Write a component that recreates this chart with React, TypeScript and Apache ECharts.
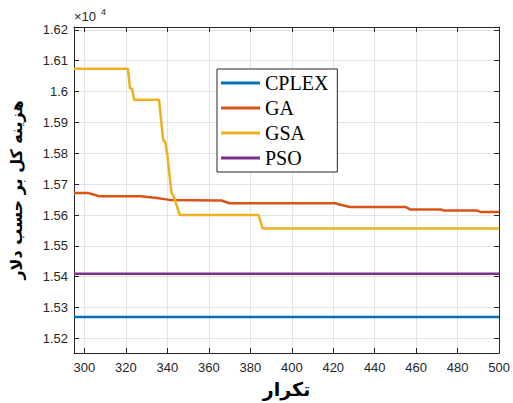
import React, { useEffect, useRef } from "react";
import * as echarts from "echarts";

const xTicks = [300, 320, 340, 360, 380, 400, 420, 440, 460, 480, 500];
const yTicks = [15200, 15300, 15400, 15500, 15600, 15700, 15800, 15900, 16000, 16100, 16200];

const seriesNames = ["CPLEX", "GA", "GSA", "PSO"];
const seriesColors = ["#0072BD", "#D95319", "#EDB120", "#7E2F8E"];

const cplexIter = [295, 500];
const cplexCost = [15270, 15270];

const gaIter = [295, 302, 304, 307, 327, 335, 341, 366, 370, 421, 423, 428, 455, 457, 472, 473, 489, 491, 500];
const gaCost = [15671, 15671, 15667, 15661, 15661, 15655, 15649, 15647, 15638, 15638, 15634, 15626, 15626, 15618, 15618, 15615, 15615, 15610, 15610];

const gsaIter = [295, 321, 322, 323, 324, 336, 338, 339, 340, 342, 343, 346, 384, 386, 500];
const gsaCost = [16074, 16074, 16010, 16010, 15973, 15973, 15843, 15837, 15795, 15672, 15662, 15600, 15600, 15556, 15556];

const psoIter = [295, 500];
const psoCost = [15410, 15410];

const iters = [cplexIter, gaIter, gsaIter, psoIter];
const costs = [cplexCost, gaCost, gsaCost, psoCost];

const AXIS = "#262626";
const GRID = "#e3e3e3";

export default function App() {
  const ref = useRef<HTMLDivElement>(null);
  useEffect(() => {
    if (!ref.current) return;
    const chart = echarts.init(ref.current, null, { renderer: "svg" });
    const xMin = 295, xMax = 500, yMin = 15153, yMax = 16209;
    const commonX = {
      type: "value",
      min: xMin,
      max: xMax,
      axisLine: { show: true, onZero: false, lineStyle: { color: AXIS, width: 1 } },
      axisTick: { show: true, inside: true, length: 5, customValues: xTicks, lineStyle: { color: AXIS } },
    };
    const commonY = {
      type: "value",
      min: yMin,
      max: yMax,
      axisLine: { show: true, onZero: false, lineStyle: { color: AXIS, width: 1 } },
      axisTick: { show: true, inside: true, length: 5, customValues: yTicks, lineStyle: { color: AXIS } },
    };
    chart.setOption({
      animation: false,
      backgroundColor: "#ffffff",
      grid: { left: 72, right: 12, top: 27, bottom: 44, containLabel: false },
      xAxis: [
        {
          ...commonX,
          position: "bottom",
          axisLabel: {
            customValues: xTicks,
            color: AXIS,
            fontSize: 13,
            fontFamily: "Liberation Sans",
            margin: 8,
          },
          splitLine: { show: true, lineStyle: { color: GRID, width: 1 } },
          name: "تکرار",
          nameLocation: "middle",
          nameGap: 26,
          nameTextStyle: { fontSize: 19, fontWeight: "bold", color: "#000", fontFamily: "DejaVu Sans" },
        },
        {
          ...commonX,
          position: "top",
          axisLabel: { show: false },
          splitLine: { show: false },
        },
      ],
      yAxis: [
        {
          ...commonY,
          position: "left",
          axisLabel: {
            customValues: yTicks,
            color: AXIS,
            fontSize: 13,
            fontFamily: "Liberation Sans",
            margin: 6,
            formatter: (v: number) => String(+(v / 10000).toFixed(4)),
          },
          splitLine: { show: true, lineStyle: { color: GRID, width: 1 } },
          name: "هزینه کل بر حسب دلار",
          nameLocation: "middle",
          nameRotate: 90,
          nameGap: 50,
          nameTextStyle: { fontSize: 16, fontWeight: "bold", color: "#000", fontFamily: "DejaVu Sans" },
        },
        {
          ...commonY,
          position: "right",
          axisLabel: { show: false },
          splitLine: { show: false },
        },
      ],
      legend: {
        orient: "vertical",
        left: 217,
        top: 69,
        padding: [4, 9, 4, 4],
        itemGap: 5,
        itemWidth: 39,
        itemHeight: 3,
        icon: "rect",
        backgroundColor: "#ffffff",
        borderColor: AXIS,
        borderWidth: 1,
        textStyle: { fontFamily: "Liberation Serif", fontSize: 20, color: "#000", lineHeight: 20 },
        data: seriesNames,
      },
      graphic: [
        { type: "text", left: 74, top: 10, style: { text: "×10", fontSize: 13, fontFamily: "Liberation Sans", fill: AXIS } },
        { type: "text", left: 101, top: 7, style: { text: "4", fontSize: 9, fontFamily: "Liberation Sans", fill: AXIS } },
      ],
      series: seriesNames.map((name, i) => ({
        name,
        type: "line",
        symbol: "none",
        color: seriesColors[i],
        lineStyle: { width: 2.5, color: seriesColors[i] },
        data: iters[i].map((x, j) => [x, costs[i][j]]),
        z: 3,
      })),
    });
    return () => chart.dispose();
  }, []);
  return <div ref={ref} style={{ position: "fixed", left: 0, top: 0, width: 513, height: 403 }} />;
}
